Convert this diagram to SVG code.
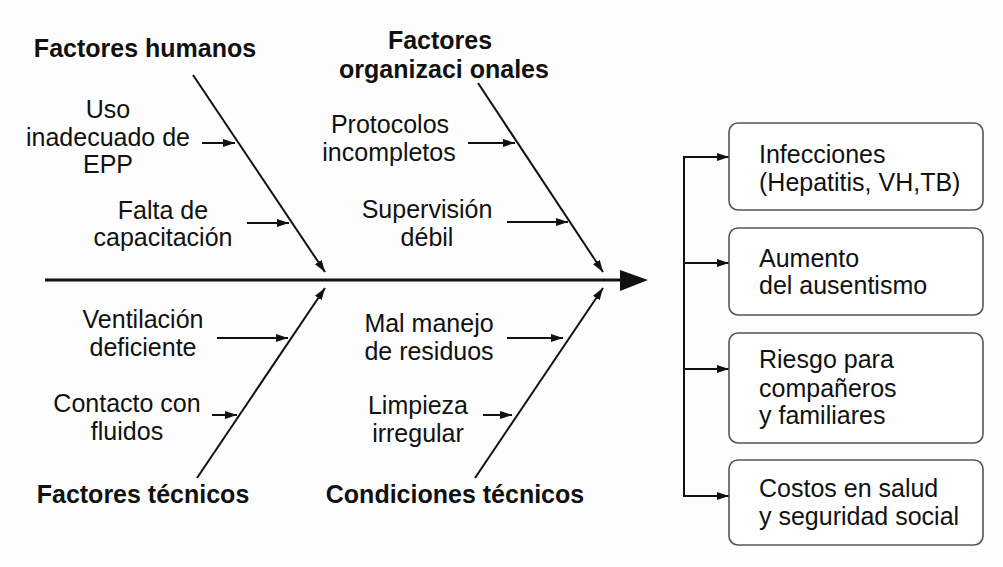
<svg xmlns="http://www.w3.org/2000/svg" width="1003" height="567" viewBox="0 0 1003 567">
<defs>
<marker id="ah" markerUnits="userSpaceOnUse" markerWidth="14" markerHeight="10" refX="12" refY="4" orient="auto">
<path d="M0,0 L12,4 L0,8 z" fill="#111"/>
</marker>
<style>
.t{font-family:"Liberation Sans",Arial,sans-serif;font-size:25px;fill:#111}
.c{text-anchor:middle}
.b{font-weight:bold}
.ln{stroke:#111;stroke-width:2;fill:none}
.box{fill:#fff;stroke:#555;stroke-width:1.6}
</style>
</defs>
<rect width="1003" height="567" fill="#fdfdfd"/>
<g id="connectors">
<line x1="45" y1="280" x2="622" y2="280" stroke="#111" stroke-width="3"/>
<path d="M620,270 L648,280 L620,291 z" fill="#111"/>
<line class="ln" x1="193" y1="75" x2="325" y2="272" marker-end="url(#ah)"/>
<line class="ln" x1="478" y1="83" x2="603" y2="272" marker-end="url(#ah)"/>
<line class="ln" x1="197" y1="478" x2="325" y2="288" marker-end="url(#ah)"/>
<line class="ln" x1="475" y1="478" x2="603" y2="288" marker-end="url(#ah)"/>
<line class="ln" x1="202" y1="143" x2="235" y2="143" marker-end="url(#ah)"/>
<line class="ln" x1="247" y1="223" x2="289" y2="223" marker-end="url(#ah)"/>
<line class="ln" x1="468" y1="143" x2="515" y2="143" marker-end="url(#ah)"/>
<line class="ln" x1="507" y1="222" x2="568" y2="222" marker-end="url(#ah)"/>
<line class="ln" x1="217" y1="338" x2="288" y2="338" marker-end="url(#ah)"/>
<line class="ln" x1="212" y1="415" x2="237" y2="415" marker-end="url(#ah)"/>
<line class="ln" x1="507" y1="338" x2="563" y2="338" marker-end="url(#ah)"/>
<line class="ln" x1="483" y1="415" x2="512" y2="415" marker-end="url(#ah)"/>
<line class="ln" x1="684" y1="157" x2="684" y2="496"/>
<line class="ln" x1="683" y1="157" x2="729" y2="157" marker-end="url(#ah)"/>
<line class="ln" x1="683" y1="263" x2="729" y2="263" marker-end="url(#ah)"/>
<line class="ln" x1="683" y1="369" x2="729" y2="369" marker-end="url(#ah)"/>
<line class="ln" x1="683" y1="496" x2="729" y2="496" marker-end="url(#ah)"/>
</g>
<g id="cat-humanos"><text class="t b c" x="145" y="57">Factores humanos</text></g>
<g id="cat-organizacionales"><text class="t b c" x="440" y="49">Factores</text><text class="t b c" x="444" y="78">organizaci onales</text></g>
<g id="cat-tecnicos"><text class="t b c" x="143" y="503">Factores técnicos</text></g>
<g id="cat-condiciones"><text class="t b c" x="455" y="503">Condiciones técnicos</text></g>
<g id="c-uso"><text class="t c" x="108" y="118">Uso</text><text class="t c" x="108" y="146">inadecuado de</text><text class="t c" x="108" y="173">EPP</text></g>
<g id="c-falta"><text class="t c" x="163" y="219">Falta de</text><text class="t c" x="163" y="246">capacitación</text></g>
<g id="c-protocolos"><text class="t c" x="390" y="133">Protocolos</text><text class="t c" x="389" y="161">incompletos</text></g>
<g id="c-supervision"><text class="t c" x="427" y="218">Supervisión</text><text class="t c" x="427" y="246">débil</text></g>
<g id="c-ventilacion"><text class="t c" x="143" y="328">Ventilación</text><text class="t c" x="143" y="356">deficiente</text></g>
<g id="c-contacto"><text class="t c" x="127" y="412">Contacto con</text><text class="t c" x="127" y="440">fluidos</text></g>
<g id="c-mal"><text class="t c" x="429" y="332">Mal manejo</text><text class="t c" x="429" y="360">de residuos</text></g>
<g id="c-limpieza"><text class="t c" x="418" y="414">Limpieza</text><text class="t c" x="418" y="442">irregular</text></g>
<g id="e-infecciones"><rect class="box" x="729" y="123" width="254" height="87" rx="9"/><text class="t" x="759" y="163">Infecciones</text><text class="t" x="759" y="191">(Hepatitis, VH,TB)</text></g>
<g id="e-ausentismo"><rect class="box" x="729" y="228" width="254" height="87" rx="9"/><text class="t" x="759" y="267">Aumento</text><text class="t" x="759" y="294">del ausentismo</text></g>
<g id="e-riesgo"><rect class="box" x="729" y="333" width="254" height="110" rx="9"/><text class="t" x="759" y="368">Riesgo para</text><text class="t" x="759" y="397">compañeros</text><text class="t" x="759" y="424">y familiares</text></g>
<g id="e-costos"><rect class="box" x="729" y="460" width="254" height="85" rx="9"/><text class="t" x="759" y="497">Costos en salud</text><text class="t" x="759" y="525">y seguridad social</text></g>
</svg>
